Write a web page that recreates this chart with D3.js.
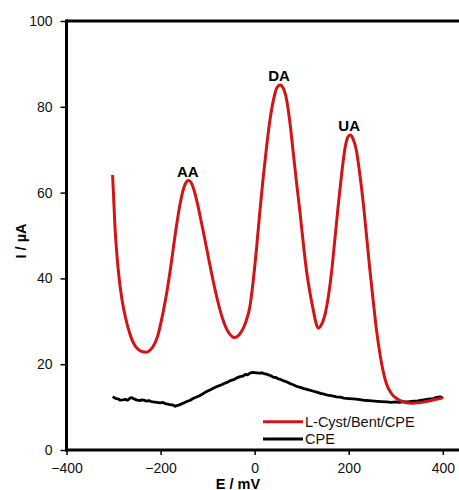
<!DOCTYPE html>
<html>
<head>
<meta charset="utf-8">
<script src="https://cdn.jsdelivr.net/npm/d3@7"></script>
<style>
  html, body { margin: 0; padding: 0; background: #fff; }
  svg { display: block; font-family: Arial, "Liberation Sans", sans-serif; }
</style>
</head>
<body>
<svg id="chart" width="459" height="490"></svg>
<script>
// Differential pulse voltammograms: potential E (mV) vs current I (µA)
const modifiedE = [-302,-297,-290,-282,-274,-265,-256,-247,-238,-230,-222,-214,-206,-199,-192,-185,-178,-171,-164,-157,-150,-144,-140,-135,-129,-122,-114,-105,-96,-87,-78,-69,-60,-52,-44,-36,-28,-19,-10,-3,4,11,18,25,32,40,47,54,61,68,75,82,89,96,103,110,118,125,130,135,141,149,157,164,171,178,185,192,198,203,209,216,223,231,238,245,252,259,265,270,275,280,290,302,312,323,334,344,355,365,373,385,397,400];
const modifiedI = [64.1,52.1,42.0,35.0,30.6,27.0,24.6,23.4,22.9,22.8,23.3,24.5,26.6,29.8,33.6,37.9,43.0,48.6,53.8,58.2,61.3,62.6,62.8,62.3,60.6,57.6,53.5,48.6,43.6,38.8,34.5,30.9,28.3,26.9,26.2,26.5,27.6,29.8,33.5,39.5,47.0,55.5,63.3,70.3,76.5,81.6,84.4,85.1,84.3,81.6,76.3,69.4,62.4,55.8,48.6,42.0,36.4,32.4,29.8,28.4,29.0,31.3,36.0,42.0,49.6,57.3,64.4,70.3,72.9,73.4,72.6,70.0,64.8,57.5,49.8,42.0,34.8,28.0,23.4,20.1,17.5,15.5,13.3,12.0,11.4,11.0,10.9,11.0,11.1,11.3,11.5,11.8,12.1,12.2];

const bareE = [-302,-298,-295,-290,-286,-280,-275,-270,-265,-261,-258,-254,-250,-244,-240,-235,-230,-225,-220,-215,-208,-201,-195,-190,-185,-180,-174,-169,-164,-160,-155,-150,-144,-137,-131,-125,-118,-110,-103,-95,-88,-80,-75,-70,-65,-60,-53,-45,-38,-31,-25,-20,-15,-10,-4,4,10,15,20,25,29,33,39,45,50,54,60,65,70,75,82,90,97,105,115,125,132,140,148,155,165,174,182,190,200,210,220,231,243,255,268,281,290,300,308,315,322,330,338,345,350,355,360,366,372,380,385,390,394,397,400];
const bareI = [12.4,12.2,12.0,11.9,11.6,11.7,11.8,11.6,12.1,12.2,12.0,11.8,11.6,11.5,11.7,11.6,11.4,11.5,11.3,11.2,11.1,11.0,11.1,10.8,10.7,10.6,10.5,10.2,10.4,10.5,10.8,11.0,11.3,11.6,12.0,12.3,12.6,13.1,13.6,14.0,14.4,14.8,15.0,15.2,15.5,15.7,16.1,16.4,16.8,17.1,17.2,17.6,17.5,17.9,18.1,18.0,17.9,18.0,17.8,17.7,17.5,17.4,17.0,16.9,16.6,16.5,16.2,16.0,15.8,15.5,15.2,14.8,14.6,14.3,14.0,13.7,13.5,13.2,13.0,12.8,12.6,12.4,12.3,12.1,12.0,11.9,11.8,11.6,11.5,11.4,11.3,11.2,11.1,11.2,11.1,11.3,11.2,11.3,11.4,11.4,11.5,11.6,11.7,11.8,11.9,12.0,12.2,12.3,12.4,12.3,12.0];

const peakLabels = ["AA", "DA", "UA"];
const peakE = [-140, 54, 203];
const peakI = [62.8, 85.1, 73.4];

const xTicks = [-400, -200, 0, 200, 400];
const yTicks = [0, 20, 40, 60, 80, 100];

const seriesNames = ["L-Cyst/Bent/CPE", "CPE"];
const seriesColors = ["#d41414", "#000000"];

const W = 459, H = 490;
const svg = d3.select("#chart");

const x = d3.scaleLinear().domain([-400, 400]).range([66.5, 442.8]);
const y = d3.scaleLinear().domain([0, 100]).range([450, 21]);

// axes (ticks outside)
const xAxis = svg.append("g").attr("transform", `translate(0,${y(0)})`)
  .call(d3.axisBottom(x).tickValues(xTicks).tickSize(5).tickSizeOuter(0).tickPadding(8));
const yAxis = svg.append("g").attr("transform", `translate(${x(-400)},0)`)
  .call(d3.axisLeft(y).tickValues(yTicks).tickSize(6).tickSizeOuter(0).tickPadding(8));
[xAxis, yAxis].forEach(a => {
  a.select(".domain").remove();
  a.selectAll(".tick line").attr("stroke", "#000").attr("stroke-width", 1.5);
  a.selectAll(".tick text").attr("fill", "#111").style("font-size", "14px")
    .style("font-family", "Arial, 'Liberation Sans', sans-serif");
});

// frame lines: left, bottom and top
svg.append("line").attr("x1", x(-400)).attr("x2", x(-400)).attr("y1", y(100) - 1.5).attr("y2", y(0) + 1.5)
  .attr("stroke", "#000").attr("stroke-width", 3);
svg.append("line").attr("x1", x(-400)).attr("x2", W).attr("y1", y(0)).attr("y2", y(0))
  .attr("stroke", "#000").attr("stroke-width", 3);
svg.append("line").attr("x1", x(-400)).attr("x2", W).attr("y1", y(100)).attr("y2", y(100))
  .attr("stroke", "#000").attr("stroke-width", 3);

// curves
const bare = bareE.map((e, i) => [e, bareI[i]]);
const modified = modifiedE.map((e, i) => [e, modifiedI[i]]);

svg.append("path").datum(bare)
  .attr("d", d3.line().x(d => x(d[0])).y(d => y(d[1])).curve(d3.curveLinear))
  .attr("fill", "none").attr("stroke", seriesColors[1]).attr("stroke-width", 2.8)
  .attr("stroke-linejoin", "round");

svg.append("path").datum(modified)
  .attr("d", d3.line().x(d => x(d[0])).y(d => y(d[1])).curve(d3.curveMonotoneX))
  .attr("fill", "none").attr("stroke", seriesColors[0]).attr("stroke-width", 3)
  .attr("stroke-linejoin", "round");

// peak labels
svg.selectAll("text.peak").data(peakLabels).enter().append("text")
  .attr("class", "peak")
  .attr("x", (d, i) => x(peakE[i]) - 1)
  .attr("y", (d, i) => y(peakI[i]) - 4)
  .attr("text-anchor", "middle")
  .style("font-size", "15px").style("font-weight", "bold")
  .text(d => d);

// axis titles
svg.append("text").attr("x", 238).attr("y", 488.5)
  .attr("text-anchor", "middle").style("font-size", "14.5px").style("font-weight", "bold")
  .text("E / mV");
svg.append("text").attr("transform", "translate(26,241) rotate(-90)")
  .attr("text-anchor", "middle").style("font-size", "14.5px").style("font-weight", "bold")
  .text("I / µA");

// legend
const legend = svg.append("g");
seriesNames.forEach((name, i) => {
  const ly = 421.7 + i * 17.3;
  legend.append("line").attr("x1", 263).attr("x2", 303).attr("y1", ly).attr("y2", ly)
    .attr("stroke", seriesColors[i]).attr("stroke-width", 3);
  legend.append("text").attr("x", 305).attr("y", ly + 5.2)
    .style("font-size", "14.5px").attr("fill", "#111").text(name);
});
</script>
</body>
</html>
